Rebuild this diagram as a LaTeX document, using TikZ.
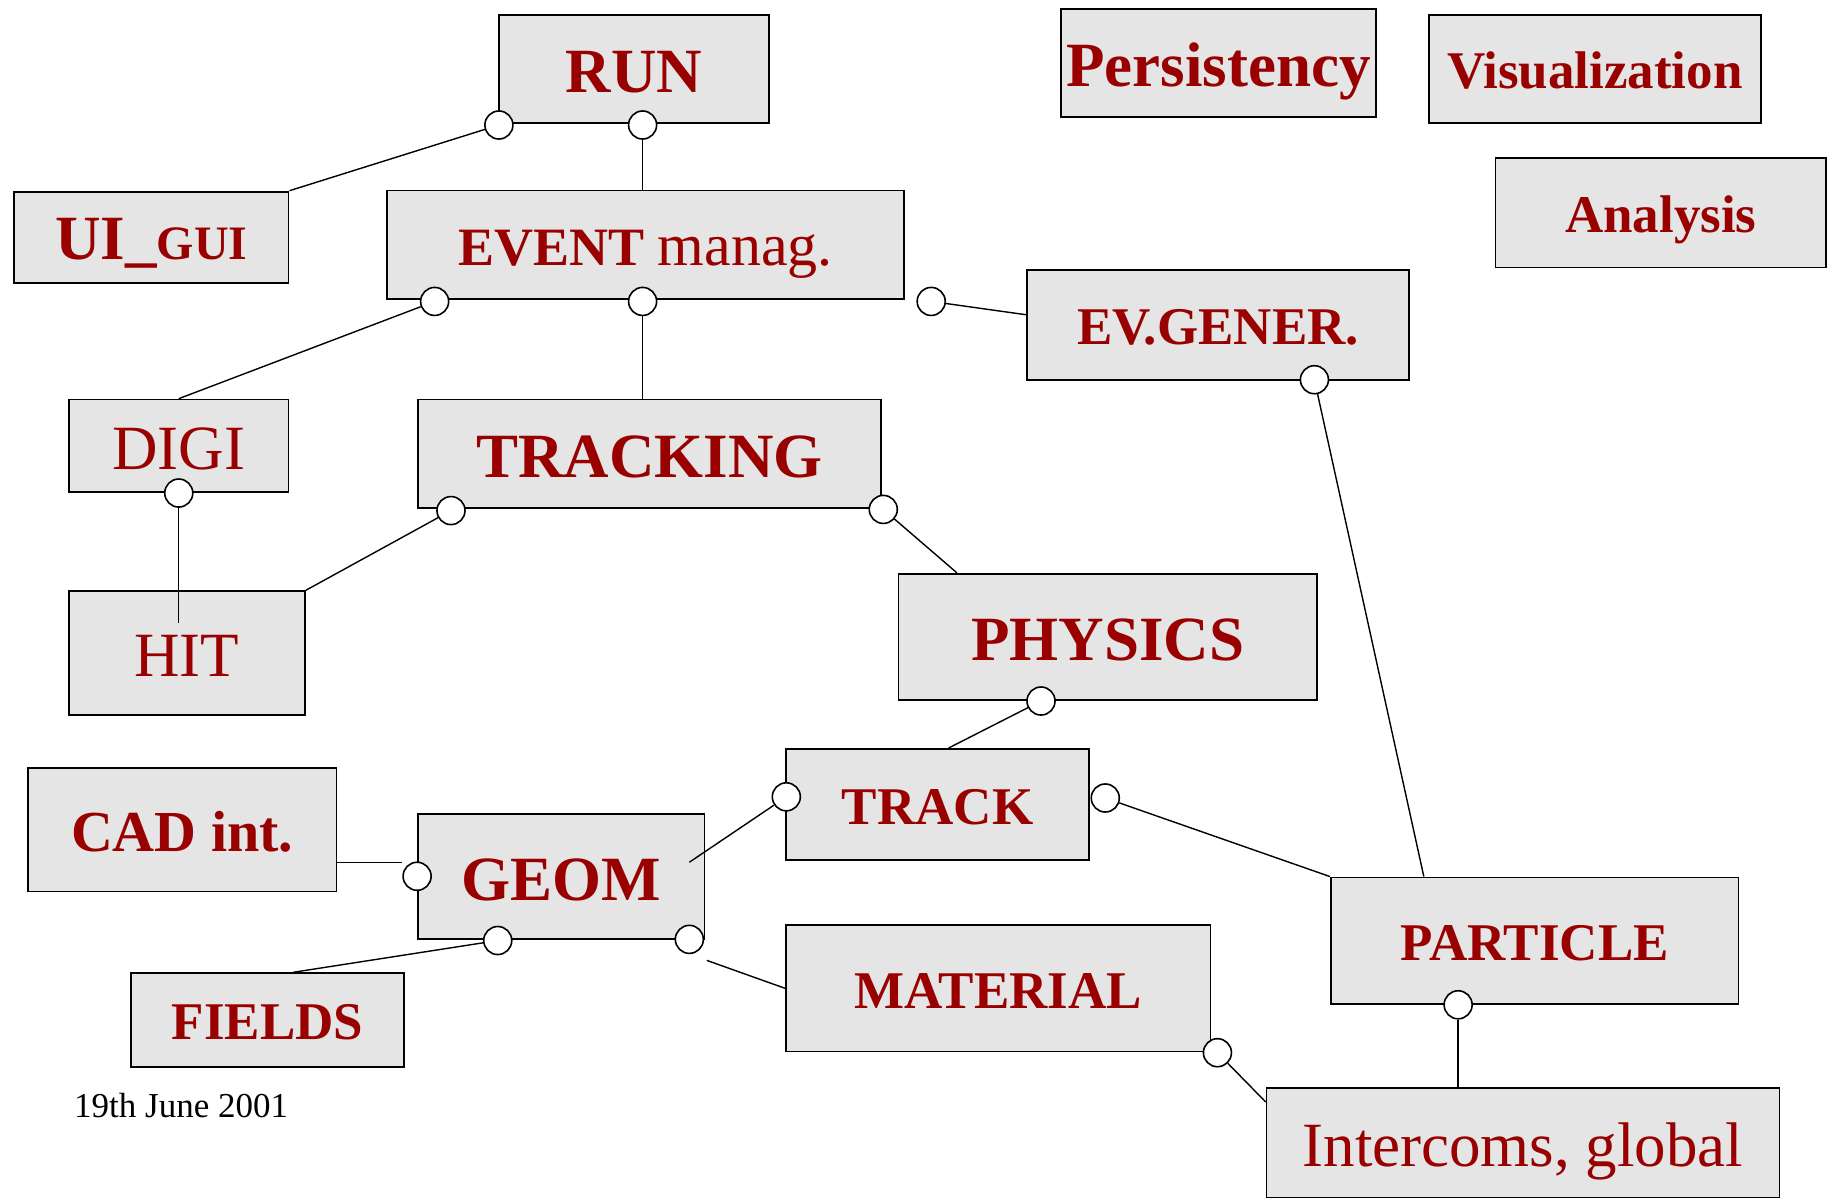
\documentclass[tikz,border=0pt]{standalone}
\usepackage{fontspec}
\setmainfont{Liberation Serif}
\definecolor{boxred}{RGB}{153,0,0}
\definecolor{boxgray}{RGB}{229,229,229}
\newcommand{\px}{0.5842pt}
\begin{document}
\begin{tikzpicture}[x=\px,y=-\px,
	box/.style 2 args={draw,line width=0.9pt,fill=boxgray,inner sep=0pt,text=boxred,minimum width=#1*\px,minimum height=#2*\px,text depth=0pt},
	bigb/.style={font=\fontsize{31.5}{36}\selectfont\bfseries,text height=23.5pt},
	midb/.style={font=\fontsize{26.5}{30}\selectfont\bfseries,text height=20pt},
	bigr/.style={font=\fontsize{31.5}{36}\selectfont,text height=23.5pt},
	port/.style={circle,draw,fill=white,line width=0.8pt,inner sep=0pt,minimum size=24*\px},
	link/.style={line width=0.7pt}]
		\useasboundingbox (0,0) rectangle (1568,1029);
		\node[box={231}{92},bigb] (run) at (542.5,59) {RUN};
		\node[box={270}{92},bigb] (persist) at (1043,54) {Persistency};
		\node[box={284}{92},midb] (visual) at (1365,59) {Visualization};
		\node[box={283}{94},midb] (analysis) at (1421.5,182) {Analysis};
		\node[box={235}{78},bigb,text height=22.5pt] (ui) at (129.5,203) {UI\_{\fontsize{24}{28}\selectfont GUI}};
		\node[box={443}{93},font=\fontsize{27}{32}\selectfont,text height=20.5pt] (event) at (552.5,209.5) {\textbf{EVENT} {\fontsize{30}{34}\selectfont manag.}};
		\node[box={327}{94},midb] (evgen) at (1042.5,278) {EV.GENER.};
		\node[box={188}{79},bigr] (digi) at (153,381.5) {DIGI};
		\node[box={396}{93},bigb] (tracking) at (556,388.5) {TRACKING};
		\node[box={202}{106},bigr] (hit) at (160,559) {HIT};
		\node[box={358}{108},bigb] (physics) at (948,545) {PHYSICS};
		\node[box={259}{95},midb] (track) at (802.5,688.5) {TRACK};
		\node[box={264}{106},font=\fontsize{29}{33}\selectfont\bfseries,text height=22pt] (cadint) at (156,710) {CAD int.};
		\node[box={245}{107},bigb] (geom) at (480.5,750.5) {GEOM};
		\node[box={234}{80},midb] (fields) at (229,873) {FIELDS};
		\node[box={363}{108},midb] (material) at (854.5,846) {MATERIAL};
		\node[box={349}{108},midb] (particle) at (1313.5,805) {PARTICLE};
		\node[box={439}{94},bigr] (intercoms) at (1303.5,978) {Intercoms, global};
		\node[font=\fontsize{17.5}{21}\selectfont] (date) at (155,946) {19th June 2001};
		\coordinate (hitin) at (153,533);
		\coordinate (geomin) at (590,738);
		\coordinate (geout) at (605,822);
		\foreach \n/\x/\y in {runA/427/107,runB/550/107,evA/372/258,evB/550/258,evC/797/258,egA/1125/325,digA/153/422,trA/386/437,trB/756/436,phA/891/600,tkA/673/682,tkB/946/683,geA/357/750,geB/426/805,geC/590/804,maA/1042/901,paA/1248/860}
		{\node[port] (\n) at (\x,\y) {};}
		\draw[link] (runA) -- (ui.north east);
		\draw[link] (runB) -- (runB |- event.north);
		\draw[link] (evA) -- (digi.north);
		\draw[link] (evB) -- (evB |- tracking.north);
		\draw[link] (evC) -- (evgen.177);
		\draw[link] (egA) -- (particle.150);
		\draw[link] (digA) -- (hitin);
		\draw[link] (trA) -- (hit.north east);
		\draw[link] (trB) -- (physics.157);
		\draw[link] (phA) -- (track.79);
		\draw[link] (tkA) -- (geomin);
		\draw[link] (tkB) -- (particle.north west);
		\draw[link] (cadint.-12) -- (cadint.-12 -| geA.west);
		\draw[link] (geB) -- (fields.62);
		\draw[link] (geout) -- (material.west);
		\draw[link] (maA) -- (intercoms.171);
		\draw[link] (paA) -- (paA |- intercoms.north);
\end{tikzpicture}
\end{document}
